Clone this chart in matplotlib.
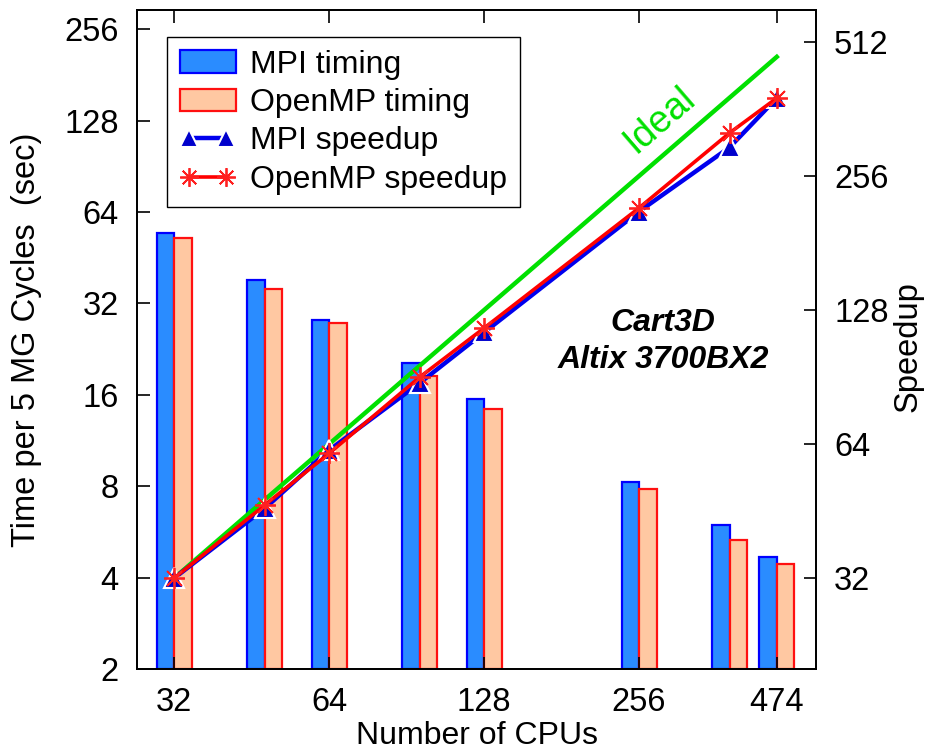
import numpy as np
import matplotlib
matplotlib.use('Agg')
import matplotlib.pyplot as plt

plt.rcParams['font.family'] = ['Liberation Sans', 'DejaVu Sans']

# data
cpus = [32, 48, 64, 96, 128, 256, 384, 474]
mpi_time = [54.4, 38.1, 28.3, 20.3, 15.5, 8.25, 5.95, 4.67]
omp_time = [52.4, 35.6, 27.5, 18.4, 14.4, 7.82, 5.31, 4.43]
mpi_speedup = [32, 45.9, 62, 87.8, 114, 213, 297, 383]
omp_speedup = [32, 46.7, 61, 90.5, 116.6, 217, 320, 383]
ideal_cpus = [32, 474]

x_ticks = [32, 64, 128, 256, 474]
left_ticks = [2, 4, 8, 16, 32, 64, 128, 256]
right_ticks = [32, 64, 128, 256, 512]

blue_face = '#2a8cff'
blue_edge = '#0000ff'
orange_face = '#ffc8a2'
orange_edge = '#ff1010'

fig = plt.figure(figsize=(9.34, 7.52), dpi=100)
ax = fig.add_axes([0.1467, 0.1104, 0.727, 0.8763])
ax2 = ax.twinx()

# bars of constant width in log2 space
w = 0.113
x = np.array(cpus, dtype=float)
b1 = ax.bar(x / 2**w, np.array(mpi_time) - 2, width=x - x / 2**w, bottom=2, align='edge',
            color=blue_face, edgecolor=blue_edge, linewidth=1.6, label='MPI timing')
b2 = ax.bar(x, np.array(omp_time) - 2, width=x * 2**w - x, bottom=2, align='edge',
            color=orange_face, edgecolor=orange_edge, linewidth=1.6, label='OpenMP timing')

ax.set_xscale('log', base=2)
ax.set_yscale('log', base=2)
ax.set_xlim(27.1, 565)
ax.set_ylim(2, 296)
ax.set_xticks(x_ticks)
ax.set_xticklabels([str(t) for t in x_ticks])
ax.set_yticks(left_ticks)
ax.set_yticklabels([str(t) for t in left_ticks])
ax.minorticks_off()

ax2.set_yscale('log', base=2)
ax2.set_ylim(20, 604)
ax2.set_yticks(right_ticks)
ax2.set_yticklabels([str(t) for t in right_ticks])
ax2.minorticks_off()

ax2.plot(ideal_cpus, ideal_cpus, color='#00e000', lw=3.2, zorder=2)
l1, = ax2.plot(cpus, mpi_speedup, color='#0000ee', lw=3.2, marker='^', markersize=15,
               markerfacecolor='#0000cc', markeredgecolor='white', markeredgewidth=1.5,
               label='MPI speedup', zorder=3)
l2, = ax2.plot(cpus, omp_speedup, color='#ff0000', lw=2.6, marker=(8, 2, 0), markersize=15,
               markeredgecolor='#ff2020', markeredgewidth=1.3, label='OpenMP speedup', zorder=4)

ax.tick_params(axis='both', which='major', direction='in', length=9, width=1.2,
               labelsize=23.5, top=True, right=False, pad=13)
ax2.tick_params(axis='y', which='major', direction='in', length=9, width=1.2,
                labelsize=23.5, pad=13)
for a in (ax, ax2):
    for s in a.spines.values():
        s.set_linewidth(1.3)

ax.set_xlabel('Number of CPUs', fontsize=23)
ax.xaxis.set_label_coords(0.5, -0.079)
ax.set_ylabel('Time per 5 MG Cycles  (sec)', fontsize=23.5)
ax.yaxis.set_label_coords(-0.14, 0.5)
ax2.set_ylabel('Speedup', fontsize=23.5)
ax2.yaxis.set_label_coords(1.112, 0.49)

ax2.text(281, 342, 'Ideal', color='#00e000', fontsize=27, rotation=40.8,
         ha='center', va='center', rotation_mode='anchor')
ax2.text(0.775, 0.497, 'Cart3D\nAltix 3700BX2', transform=ax2.transAxes, fontsize=23,
         fontweight='bold', fontstyle='italic', ha='center', va='center', linespacing=1.3)

leg = ax2.legend([b1, b2, l1, l2], ['MPI timing', 'OpenMP timing', 'MPI speedup', 'OpenMP speedup'],
                 loc='upper left', bbox_to_anchor=(0.0442, 0.959), borderaxespad=0,
                 fontsize=23, numpoints=2, handlelength=1.75, handleheight=0.7,
                 handletextpad=0.45, labelspacing=0.26, fancybox=False, framealpha=1,
                 edgecolor='black', borderpad=0.4, markerscale=0.9)
leg.get_frame().set_linewidth(1.0)

fig.savefig('out.png', dpi=100)
